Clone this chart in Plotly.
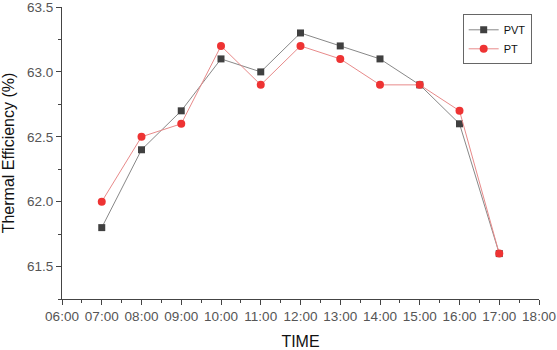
import plotly.graph_objects as go

hours = [7, 8, 9, 10, 11, 12, 13, 14, 15, 16, 17]
pvt = [61.8, 62.4, 62.7, 63.1, 63.0, 63.3, 63.2, 63.1, 62.9, 62.6, 61.6]
pt = [62.0, 62.5, 62.6, 63.2, 62.9, 63.2, 63.1, 62.9, 62.9, 62.7, 61.6]
tick_vals = list(range(6, 19))
tick_text = [f"{h:02d}:00" for h in tick_vals]

FONT = "Liberation Sans, Arial"

fig = go.Figure()
fig.add_trace(go.Scatter(x=hours, y=pvt, name="PVT", mode="lines+markers",
                         line=dict(color="#888888", width=1),
                         marker=dict(symbol="square", size=7, color="#404040")))
fig.add_trace(go.Scatter(x=hours, y=pt, name="PT", mode="lines+markers",
                         line=dict(color="#e88a8a", width=1),
                         marker=dict(symbol="circle", size=8, color="#ee3333")))

axis_common = dict(showline=True, linecolor="#444", linewidth=1, ticks="outside",
                   tickcolor="#444", ticklen=5, showgrid=False, zeroline=False,
                   automargin=False, ticklabeloverflow="allow",
                   tickfont=dict(family=FONT, size=13.5, color="#555"),
                   minor=dict(ticks="outside", ticklen=3, tickcolor="#444"))

fig.update_xaxes(range=[6, 18], tickvals=tick_vals, ticktext=tick_text,
                 title=dict(text="TIME", font=dict(family=FONT, size=16, color="#111"), standoff=14),
                 minor_dtick=0.5, **axis_common)
fig.update_yaxes(range=[61.25, 63.5], tickvals=[61.5, 62.0, 62.5, 63.0, 63.5],
                 tickformat=".1f",
                 title=dict(text="Thermal Efficiency (%)", font=dict(family=FONT, size=16, color="#111"), standoff=8),
                 minor_dtick=0.25, **axis_common)

fig.update_layout(width=557, height=350, plot_bgcolor="white", paper_bgcolor="white",
                  margin=dict(l=62, r=18, t=7, b=51),
                  legend=dict(x=0.84, y=0.975, xanchor="left", yanchor="top",
                              bordercolor="#666", borderwidth=1, bgcolor="white",
                              font=dict(family=FONT, size=11, color="#111"),
                              tracegroupgap=0, itemwidth=30))
fig.write_html("out.html", config={"displayModeBar": False},
               post_script="document.body.style.margin='0';")
